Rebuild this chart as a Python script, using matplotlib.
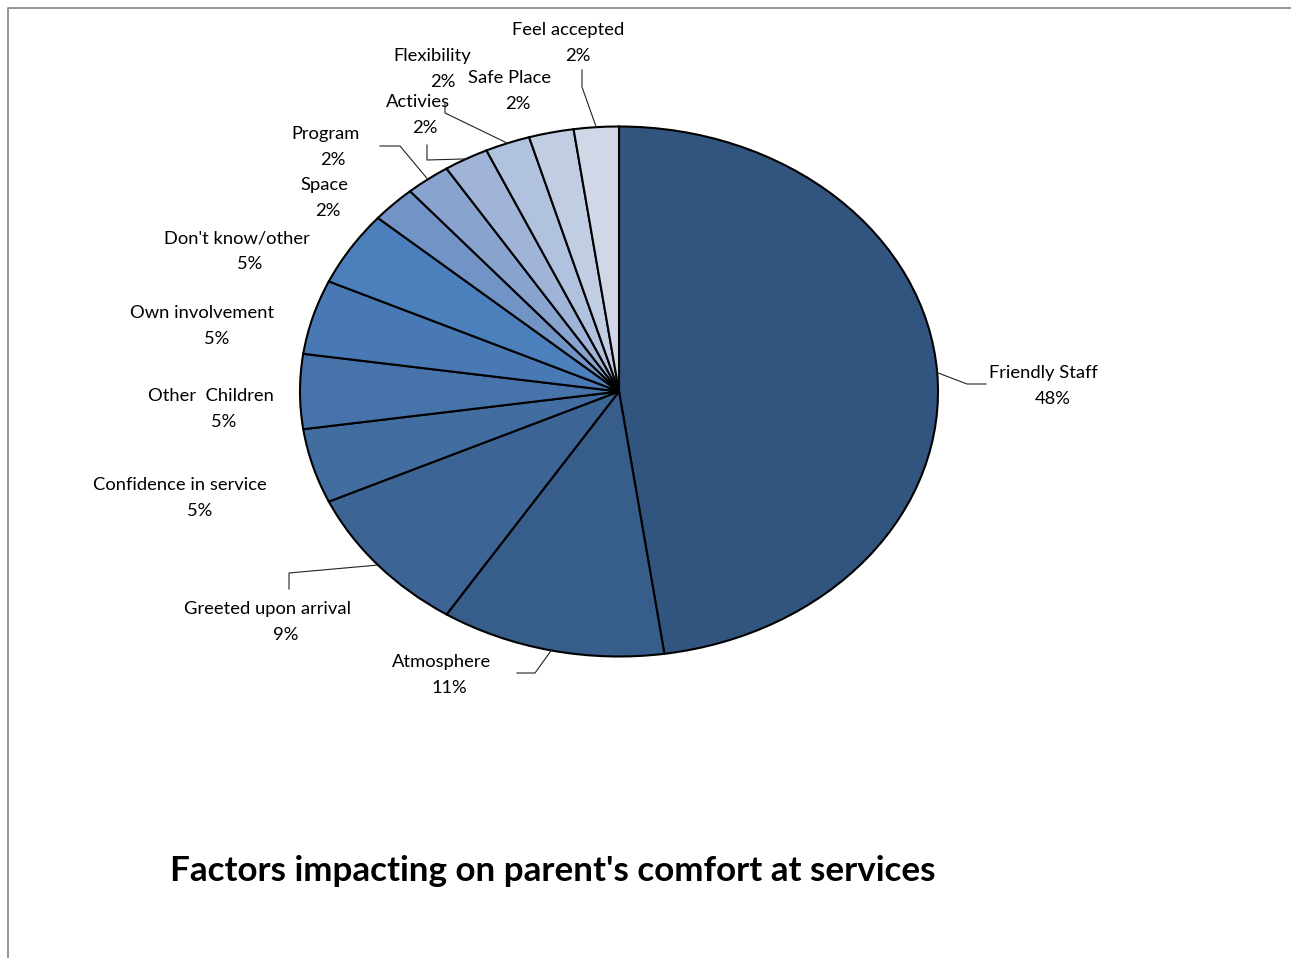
import numpy as np
import matplotlib
matplotlib.use("Agg")
import matplotlib.pyplot as plt
from matplotlib.lines import Line2D

# responses per factor (44 parents in total)
factors = ["Friendly Staff", "Atmosphere", "Greeted upon arrival",
           "Confidence in service", "Other  Children", "Own involvement",
           "Don't know/other", "Space", "Program", "Activies",
           "Flexibility", "Safe Place", "Feel accepted"]
counts = [21, 5, 4, 2, 2, 2, 2, 1, 1, 1, 1, 1, 1]
colours = ["#32557F", "#375D8B", "#3C6596", "#416DA1", "#4573AA", "#4879B4",
           "#4B80BD", "#7293C5", "#88A3CE", "#A0B4D8", "#B1C2DF", "#C1CDE3",
           "#D0D8E8"]

# pie geometry on the canvas (pixels): centre and the two radii
W, H = 1291, 958
cx, cy, rx, ry = 619, 391.5, 319, 265

# label placement in pixels: name line, percent line
name_pos = [(1043, 373), (442, 662), (267, 609), (180, 485), (211, 396),
            (202, 313), (237, 238), (324, 185), (326, 134), (418, 102),
            (432, 56), (510, 78), (568, 30)]
pct_pos = [(1053, 399), (449, 688), (286, 635), (200, 511), (224, 422),
           (217, 339), (250, 264), (328, 211), (333, 160), (425, 128),
           (443, 82), (518, 104), (578, 56)]
# leader line elbows (pixels) for the slices that have one
leaders = {
    "Friendly Staff": [(967, 384), (986, 384)],
    "Atmosphere": [(535, 673), (517, 673)],
    "Greeted upon arrival": [(289, 573), (289, 589)],
    "Program": [(400, 146), (380, 146)],
    "Activies": [(427, 160), (427, 145)],
    "Flexibility": [(445, 113), (445, 103)],
    "Feel accepted": [(582, 87), (582, 70)],
}


def px(x, y):
    return (x - cx) / rx, (cy - y) / ry


plt.rcParams['font.family'] = ['Lato', 'DejaVu Sans']

fig = plt.figure(figsize=(W / 100, H / 100), dpi=100)
ax = fig.add_axes([(cx - rx) / W, (H - cy - ry) / H, 2 * rx / W, 2 * ry / H])

wedges, _ = ax.pie(counts, colors=colours, startangle=90, counterclock=False,
                   wedgeprops=dict(edgecolor="black", linewidth=1.5))
ax.set_aspect("auto")
ax.set_xlim(-1, 1)
ax.set_ylim(-1, 1)
ax.axis("off")

total = sum(counts)
for name, c, w, npos, ppos in zip(factors, counts, wedges, name_pos, pct_pos):
    ax.text(*px(*npos), name, ha="center", va="center", fontsize=13.2,
            color="black", clip_on=False)
    ax.text(*px(*ppos), "%d%%" % round(100 * c / total), ha="center",
            va="center", fontsize=13.2, color="black", clip_on=False)
    if name in leaders:
        mid = np.deg2rad((w.theta1 + w.theta2) / 2)
        pts = [(np.cos(mid), np.sin(mid))] + [px(*p) for p in leaders[name]]
        xs, ys = zip(*pts)
        ax.plot(xs, ys, color="#222222", lw=0.8, clip_on=False)

# chart area frame (left and top edges only are visible)
fig.add_artist(Line2D([8 / W, 8 / W, 1.0], [0.0, 1 - 8 / H, 1 - 8 / H],
                      transform=fig.transFigure, color="#8c8c8c", lw=1.3))

fig.text(170 / W, 1 - 871 / H, "Factors impacting on parent's comfort at services",
         ha="left", va="center", fontsize=25.2, fontweight="bold", color="black")

fig.savefig("out.png", dpi=100, facecolor="white")
